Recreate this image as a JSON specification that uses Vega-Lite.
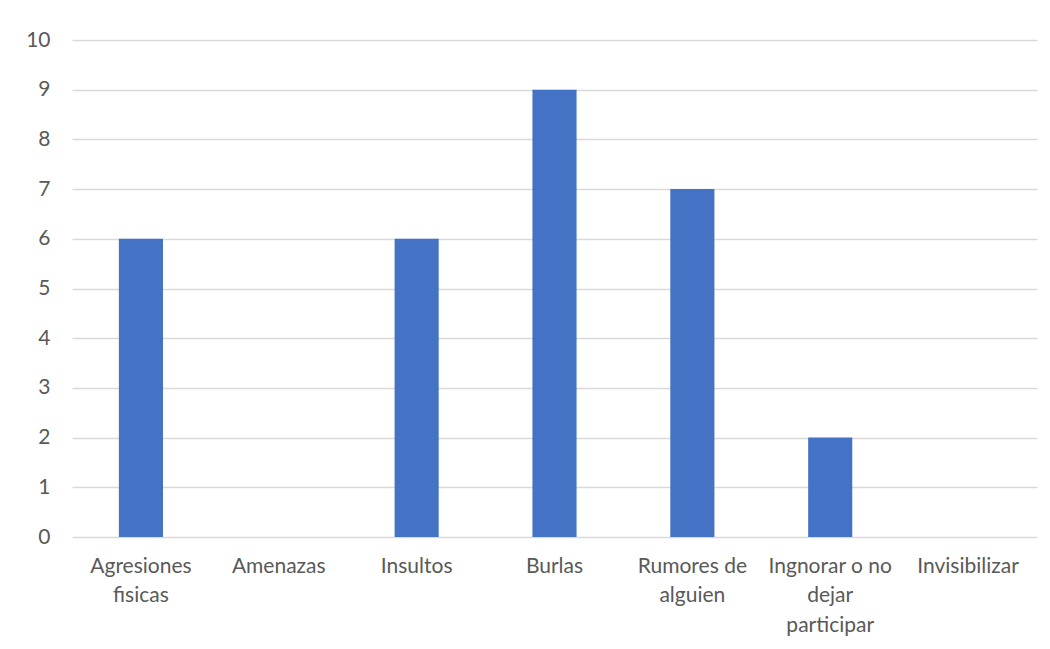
{
  "$schema": "https://vega.github.io/schema/vega-lite/v6.json",
  "width": 965,
  "height": 497,
  "autosize": {"type": "none"},
  "padding": {"left": 72, "top": 40, "right": 13, "bottom": 112},
  "background": "white",
  "config": {"view": {"stroke": null}, "font": "Lato"},
  "data": {"values": [
    {"category": "Agresiones fisicas", "value": 6},
    {"category": "Amenazas", "value": 0},
    {"category": "Insultos", "value": 6},
    {"category": "Burlas", "value": 9},
    {"category": "Rumores de alguien", "value": 7},
    {"category": "Ingnorar o no dejar participar", "value": 2},
    {"category": "Invisibilizar", "value": 0}
  ]},
  "mark": {"type": "bar", "color": "#4472C4"},
  "encoding": {
    "x": {
      "field": "category", "type": "nominal", "sort": null,
      "scale": {"paddingInner": 0.68, "paddingOuter": 0.34},
      "axis": {
        "title": null, "domain": false, "ticks": false, "labelAngle": 0,
        "labelFontSize": 21, "labelColor": "#595959", "labelPadding": 18,
        "labelLineHeight": 29.5, "labelBaseline": "top",
        "labelExpr": "datum.value == 'Agresiones fisicas' ? ['Agresiones','fisicas'] : datum.value == 'Rumores de alguien' ? ['Rumores de','alguien'] : datum.value == 'Ingnorar o no dejar participar' ? ['Ingnorar o no','dejar','participar'] : datum.value"
      }
    },
    "y": {
      "field": "value", "type": "quantitative",
      "scale": {"domain": [0, 10], "nice": false},
      "axis": {
        "title": null, "domain": false, "ticks": false, "tickCount": 10,
        "grid": true, "gridColor": "#D9D9D9", "gridWidth": 1.3,
        "labelFontSize": 21, "labelColor": "#595959", "labelPadding": 22
      }
    }
  }
}
